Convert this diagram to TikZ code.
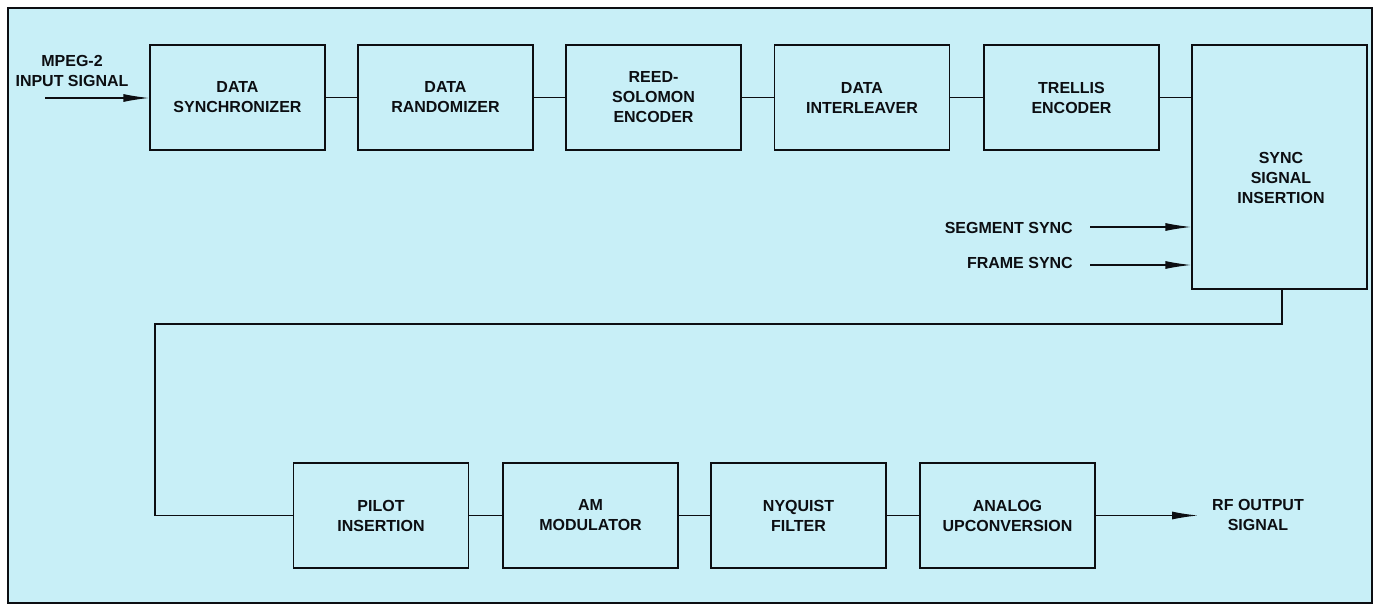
\documentclass[tikz,border=0pt]{standalone}
\usepackage{fontspec}
\setmainfont{Liberation Sans}
\usetikzlibrary{arrows.meta}
\definecolor{bgcyan}{RGB}{200,239,247}
\definecolor{ink}{RGB}{12,14,18}
\tikzset{
  blk/.style={draw=ink, line width=1.3pt, rectangle, minimum width=175pt, minimum height=105pt,
    inner sep=0pt, align=center, font=\fontsize{16}{20}\selectfont\bfseries, text=ink},
  lbl/.style={inner sep=0pt, font=\fontsize{16}{20}\selectfont\bfseries, text=ink},
  wire/.style={draw=ink, line width=1.3pt},
  arr/.style={wire, -{Latex[length=26pt,width=8pt]}}
}
\begin{document}
\begin{tikzpicture}[x=1pt,y=-1pt]
\useasboundingbox (0,0) rectangle (1375,609);
\fill[white] (0,0) rectangle (1375,609);
\filldraw[fill=bgcyan, draw=ink, line width=1.6pt] (8,8) rectangle (1372,603);
% top row
\node[blk] (b1) at (237.5,97.5) {DATA\\SYNCHRONIZER};
\node[blk] (b2) at (445.5,97.5) {DATA\\RANDOMIZER};
\node[blk] (b3) at (653.5,97.5) {REED-\\SOLOMON\\ENCODER};
\node[blk] (b4) at (862,97.5) {DATA\\INTERLEAVER};
\node[blk] (b5) at (1071.5,97.5) {TRELLIS\\ENCODER};
\node[blk, minimum height=244pt] (sync) at (1279.5,167) {};
\node[lbl, align=center] (synct) at (1281,178) {SYNC\\SIGNAL\\INSERTION};
% bottom row
\node[blk] (p1) at (381,515.5) {PILOT\\INSERTION};
\node[blk] (p2) at (590.5,515.5) {AM\\MODULATOR};
\node[blk] (p3) at (798.5,515.5) {NYQUIST\\FILTER};
\node[blk] (p4) at (1007.5,515.5) {ANALOG\\UPCONVERSION};
% labels
\node[lbl, align=center] (in) at (72,71) {MPEG-2\\INPUT SIGNAL};
\node[lbl, anchor=east] (seg) at (1073,228) {SEGMENT SYNC};
\node[lbl, anchor=east] (frm) at (1073,263) {FRAME SYNC};
\node[lbl, align=center] (rf) at (1258,515) {RF OUTPUT\\SIGNAL};
% coordinates
\coordinate (inS) at (45,98);
\coordinate (segS) at (1090,227);
\coordinate (frmS) at (1090,265);
\coordinate (fb1) at (1282,324);
\coordinate (fb2) at (155,324);
\coordinate (outE) at (1198,515.5);
% connectors
\draw[arr] (inS) -- (inS -| b1.west);
\draw[wire] (b1) -- (b2);
\draw[wire] (b2) -- (b3);
\draw[wire] (b3) -- (b4);
\draw[wire] (b4) -- (b5);
\draw[wire] (b5.east) -- (b5.east -| sync.west);
\draw[arr] (segS) -- (segS -| sync.west);
\draw[arr] (frmS) -- (frmS -| sync.west);
\draw[wire] (fb1 |- sync.south) -- (fb1) -- (fb2) |- (p1.west);
\draw[wire] (p1) -- (p2);
\draw[wire] (p2) -- (p3);
\draw[wire] (p3) -- (p4);
\draw[arr] (p4.east) -- (outE);
\end{tikzpicture}
\end{document}
